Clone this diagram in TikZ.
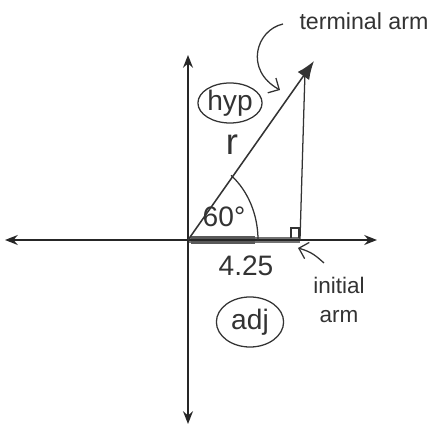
\documentclass[tikz,border=0pt]{standalone}
\usepackage{fontspec}
\setmainfont{Liberation Sans}
\usetikzlibrary{arrows.meta,shapes.geometric}
\begin{document}
\begin{tikzpicture}[x=0.025cm,y=-0.025cm,
  axis/.style={line width=1.5pt,-{Stealth[length=9pt,width=7pt]},black!85},
  pen/.style={line width=0.9pt,black!80},
  lbl/.style={font=\fontsize{16}{16}\selectfont,text=black!80,inner sep=1pt},
  big/.style={font=\fontsize{20}{20}\selectfont},
  ring/.style={ellipse,draw,line width=0.9pt,black!80,inner sep=0pt}]
\useasboundingbox (0,0) rectangle (430,425);
\coordinate (O) at (188,240);
\coordinate (xp) at (377,240);
\coordinate (xn) at (5,240);
\coordinate (yp) at (188,55);
\coordinate (yn) at (188,424);
\coordinate (T) at (314,61);
\coordinate (F) at (300,240);
% shaded adjacent side
\draw[line width=4pt,black!55] (O) -- (F);
\draw[line width=5pt,black!65] (191,240) -- (255,240);
% axes
\draw[axis] (O) -- (xp);
\draw[axis] (O) -- (xn);
\draw[axis] (O) -- (yp);
\draw[axis] (O) -- (yn);
% terminal arm and opposite side
\draw[pen,line width=1.1pt,-{Latex[length=13pt,width=10pt]}] (O) -- (T);
\draw[pen] (305,72) -- (F);
% right angle box
\draw[pen] (291,238) -- (291,228) -- (299,228) -- (299,238);
% angle arc
\draw[pen] (258,240) arc[start angle=0,end angle=-52,x radius=70,y radius=82];
% labels
\node[lbl,big] (ang) at (224,217) {60°};
\node[lbl,font=\fontsize{26}{26}\selectfont] (r) at (232,145) {r};
\node[lbl,big,ring,minimum width=1.55cm,minimum height=1.0cm] (hyp) at (230,103) {hyp};
\node[lbl,big] (val) at (246,266) {4.25};
\node[lbl,big,ring,minimum width=1.68cm,minimum height=1.25cm] (adj) at (250,322) {adj};
\node[lbl,align=center] (ini) at (339,300) {initial\\[4pt]arm};
\node[lbl,font=\fontsize{16.5}{16.5}\selectfont] (term) at (364,21) {terminal arm};
% pointer arrows
\draw[pen,-{Straight Barb[length=6pt]}] (283,24) .. controls (256,30) and (244,70) .. (280,90);
\draw[pen,-{Straight Barb[length=6pt]}] (324,263) .. controls (316,256) and (312,252) .. (298,248);
\end{tikzpicture}
\end{document}
